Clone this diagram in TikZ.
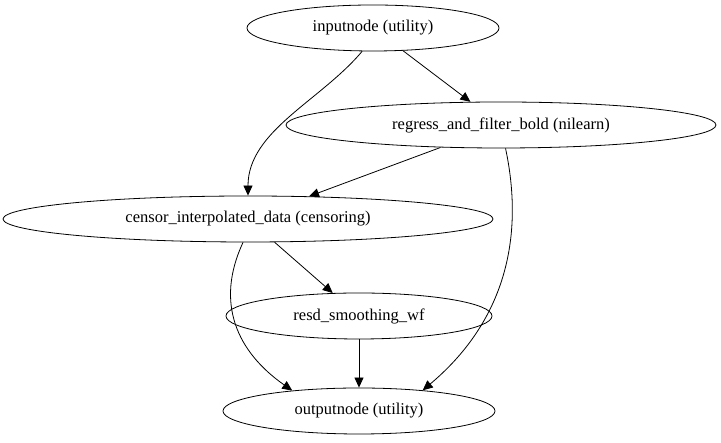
\documentclass[tikz,border=0pt]{standalone}
\usepackage{fontspec}
\setmainfont{Liberation Serif}
\usetikzlibrary{shapes.geometric, arrows.meta}

\begin{document}
\begin{tikzpicture}[x=1pt,y=1pt,line width=0.8pt,
    proc/.style={draw,ellipse,inner sep=0pt,minimum height=46pt,font=\fontsize{16.5}{18}\selectfont},
    edge/.style={-{Triangle[length=10pt,width=9pt]}}]
            \useasboundingbox (0,0) rectangle (721,443);
            % nodes of the workflow
            \node[proc,minimum width=252pt] (input) at (373,415) {inputnode (utility)};
            \node[proc,minimum width=430pt] (regress) at (501,318) {regress\_and\_filter\_bold (nilearn)};
            \node[proc,minimum width=490pt] (censor) at (248,224) {censor\_interpolated\_data (censoring)};
            \node[proc,minimum width=266pt] (resd) at (359,127) {resd\_smoothing\_wf};
            \node[proc,minimum width=272pt] (output) at (359,32) {outputnode (utility)};
            % connections
            \draw[edge] (input.245) to[out=230,in=90,looseness=0.9] (censor.north);
            \draw[edge] (input) -- (regress);
            \draw[edge] (regress) -- (censor);
            \draw[edge] (censor) -- (resd);
            \draw[edge] (censor.258) to[out=245,in=145,looseness=1.1] (output.163);
            \draw[edge] (regress.281) to[out=-78,in=40] (output.18);
            \draw[edge] (resd) -- (output);
\end{tikzpicture}
\end{document}
